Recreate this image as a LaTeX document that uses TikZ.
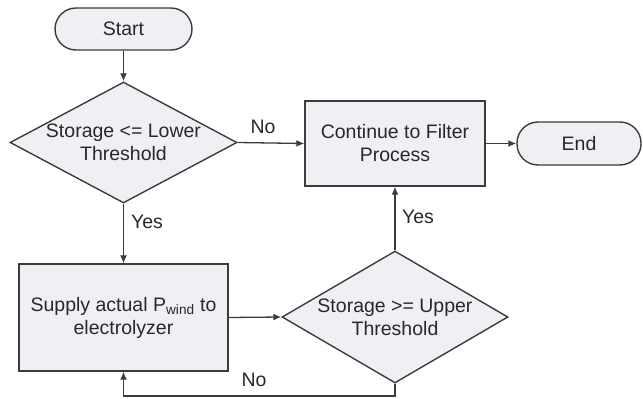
\documentclass[tikz,border=0pt]{standalone}
\usepackage{fontspec}
\setmainfont{Liberation Sans}
\usetikzlibrary{shapes.geometric,arrows.meta}
\definecolor{boxfill}{RGB}{238,240,244}
\definecolor{edgecol}{RGB}{60,60,60}
\definecolor{txtcol}{RGB}{40,40,40}
\tikzset{
  every node/.style={font=\fontsize{19.5}{23}\selectfont, text=txtcol},
  base/.style={draw=edgecol, line width=1.4pt, fill=boxfill, inner sep=0pt, align=center},
  terminal/.style={base, rectangle, rounded corners=21pt},
  procbox/.style={base, rectangle},
  decbox/.style={base, diamond},
  conn/.style={draw=edgecol, line width=1.3pt, -{Latex[length=8pt,width=7pt]}},
  lbl/.style={inner sep=0pt}
}
\begin{document}
\begin{tikzpicture}[x=1pt,y=-1pt]
\useasboundingbox (0,0) rectangle (643,399);
\node[terminal, minimum width=137pt, minimum height=42pt] (start) at (123.5,29) {Start};
\node[decbox, minimum width=227pt, minimum height=121pt,
      label={[align=center]center:Storage <= Lower\\Threshold}] (d1) at (123.5,142.5) {};
\node[procbox, minimum width=180pt, minimum height=85pt] (cont) at (395,143.5) {Continue to Filter\\Process};
\node[terminal, minimum width=124pt, minimum height=43pt] (end) at (579,143.5) {End};
\node[procbox, minimum width=209pt, minimum height=107pt] (supply) at (123.5,317.5) {Supply actual P\textsubscript{wind} to\\electrolyzer};
\node[decbox, minimum width=226pt, minimum height=132pt,
      label={[align=center]center:Storage >= Upper\\Threshold}] (d2) at (395,317) {};
\coordinate (loop) at (0,396);

\draw[conn] (start.south) -- (d1.north);
\draw[conn] (d1.east) -- (cont.west);
\draw[conn] (cont.east) -- (end.west);
\draw[conn] (d1.south) -- (supply.north);
\draw[conn] (supply.east) -- (d2.west);
\draw[conn] (d2.north) -- (cont.south);
\draw[conn] (d2.south) -- (d2.south |- loop) -| (supply.south);

\node[lbl] (no1) at (263,127) {No};
\node[lbl] (yes1) at (147,222) {Yes};
\node[lbl] (yes2) at (418,217) {Yes};
\node[lbl] (no2) at (254,380) {No};
\end{tikzpicture}
\end{document}
